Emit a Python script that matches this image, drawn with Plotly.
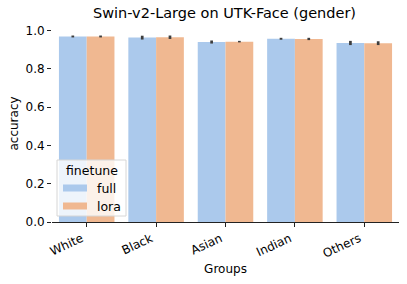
import plotly.graph_objects as go

groups = ["White", "Black", "Asian", "Indian", "Others"]
finetune = ["full", "lora"]
full_acc = [0.970, 0.964, 0.941, 0.958, 0.936]
full_err = [0.005, 0.010, 0.008, 0.005, 0.011]
lora_acc = [0.970, 0.966, 0.943, 0.957, 0.935]
lora_err = [0.005, 0.009, 0.004, 0.006, 0.010]

COLORS = ["#abc9ec", "#f0b891"]
FONT = "DejaVu Sans"
W, H = 407, 284
L, R, T, B = 52, 8, 25, 62
PW, PH = W - L - R, H - T - B

fig = go.Figure()
for name, vals, errs, col in zip(finetune, [full_acc, lora_acc], [full_err, lora_err], COLORS):
    fig.add_trace(go.Bar(name=name, x=groups, y=vals, showlegend=False,
                         marker=dict(color=col, line=dict(width=0)),
                         error_y=dict(type="data", array=errs, color="#3d3d3d",
                                      thickness=2.7, width=0)))

def fx(px):
    return (px - L) / PW

def fy(py):
    return (H - B - py) / PH

# matplotlib-style legend
fig.add_shape(type="rect", xref="paper", yref="paper",
              x0=fx(57), x1=fx(126), y0=fy(216), y1=fy(160),
              fillcolor="rgba(255,255,255,0.8)", line=dict(color="#d6d6d6", width=1))
fig.add_annotation(xref="paper", yref="paper", x=fx(91.5), y=fy(170),
                   text="finetune", showarrow=False, xanchor="center", yanchor="middle",
                   borderpad=0, font=dict(size=12.5, family=FONT, color="black"))
for i, (name, col) in enumerate(zip(finetune, COLORS)):
    cy = 188 + 18 * i
    fig.add_shape(type="rect", xref="paper", yref="paper",
                  x0=fx(63), x1=fx(87), y0=fy(cy + 3.5), y1=fy(cy - 3.5),
                  fillcolor=col, line=dict(width=0))
    fig.add_annotation(xref="paper", yref="paper", x=fx(96), y=fy(cy),
                       text=name, showarrow=False, xanchor="left", yanchor="middle",
                       borderpad=0, font=dict(size=12.5, family=FONT, color="black"))

fig.update_layout(
    width=W, height=H,
    margin=dict(l=L, r=R, t=T, b=B, autoexpand=False),
    paper_bgcolor="white", plot_bgcolor="white",
    barmode="group", bargap=0.2, bargroupgap=0,
    font=dict(family=FONT, size=12, color="black"),
    title=dict(text="Swin-v2-Large on UTK-Face (gender)", x=0.5516, xanchor="center",
               y=0.9736, yanchor="top", font=dict(size=14.5, family=FONT, color="black")),
    showlegend=False,
)
fig.update_xaxes(title=dict(text="Groups", font=dict(size=12), standoff=4),
                 tickangle=-25, ticks="outside", ticklen=4, tickcolor="#222",
                 ticklabelshift=-5,
                 showline=True, linecolor="#222", linewidth=1.2, range=[-0.5, 4.5],
                 showgrid=False, tickfont=dict(size=12), automargin=False)
fig.update_yaxes(title=dict(text="accuracy", font=dict(size=12), standoff=4),
                 range=[0, 1.03], tickvals=[0, 0.2, 0.4, 0.6, 0.8, 1.0],
                 ticktext=["0.0", "0.2", "0.4", "0.6", "0.8", "1.0"],
                 ticks="outside", ticklen=4, tickcolor="#222",
                 showline=False, showgrid=False, zeroline=False, tickfont=dict(size=12),
                 automargin=False)

fig.write_html("out.html", config={"displayModeBar": False},
               post_script="document.body.style.margin='0';")
